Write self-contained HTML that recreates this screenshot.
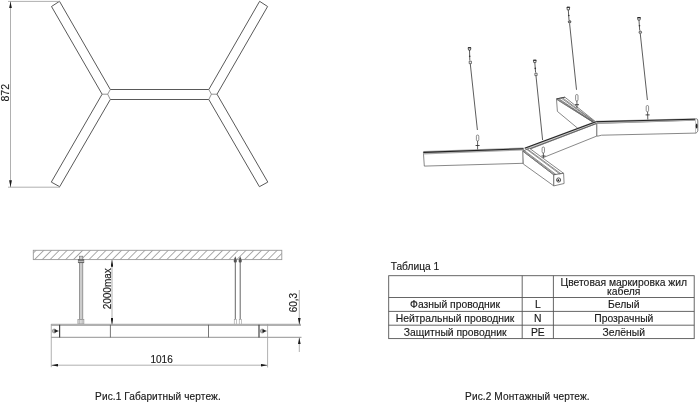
<!DOCTYPE html>
<html><head><meta charset="utf-8">
<style>
html,body{margin:0;padding:0;background:#fff;}
body{width:700px;height:403px;overflow:hidden;position:relative;font-family:"Liberation Sans",sans-serif;}
svg{position:absolute;left:0;top:0;will-change:transform;}
svg text{font-family:"Liberation Sans",sans-serif;fill:#1a1a1a;stroke:#1a1a1a;stroke-width:0.15px;}
</style></head><body>
<svg width="700" height="403" viewBox="0 0 700 403">
<defs>
<marker id="ar" viewBox="0 0 7 2.8" refX="7" refY="1.4" markerWidth="7" markerHeight="2.8" markerUnits="userSpaceOnUse" orient="auto-start-reverse"><path d="M0,0 L7,1.4 L0,2.8z" fill="#1a1a1a"/></marker>
</defs>
<!-- TOP-LEFT plan view -->
<g fill="none" stroke="#505050" stroke-width="0.95">
<!-- upper-left arm -->
<path d="M102.1,94.2 L51.5,6.5 L59.5,1.3 L110.3,89.5"/>
<!-- lower-left arm -->
<path d="M102.1,94.2 L51.3,182.1 L59.7,186.7 L110.3,99.5"/>
<!-- bar -->
<path d="M110.3,89.5 L208.8,89.5 M110.3,99.5 L208.8,99.5"/>
<!-- upper-right arm -->
<path d="M217,94.2 L267.6,6.5 L259.6,1.3 L208.8,89.5"/>
<!-- lower-right arm -->
<path d="M217,94.2 L267.8,182.1 L259.4,186.7 L208.8,99.5"/>
</g>
<g fill="none" stroke="#666" stroke-width="0.7">
<path d="M102.1,94.2 L107.7,94.2 L110.3,89.5 M107.7,94.2 L110.3,99.5"/>
<path d="M217,94.2 L211.4,94.2 L208.8,89.5 M211.4,94.2 L208.8,99.5"/>
</g>
<!-- 872 dim -->
<g stroke="#9c9c9c" stroke-width="0.8" fill="none">
<path d="M8,1.4 L60,1.4 M8,187.2 L60,187.2"/>
<path d="M10.5,1.4 L10.5,187.2" marker-start="url(#ar)" marker-end="url(#ar)"/>
</g>
<text transform="translate(8.7,92.7) rotate(-90)" font-size="10.5" text-anchor="middle">872</text>

<!-- BOTTOM-LEFT elevation -->
<defs>
<pattern id="hatch" patternUnits="userSpaceOnUse" width="5.5" height="5.5" patternTransform="translate(-2.1,0) rotate(45)">
<line x1="0" y1="0" x2="0" y2="5.5" stroke="#444" stroke-width="0.9"/>
</pattern>
<clipPath id="hc"><rect x="33.3" y="250.3" width="248.5" height="9.3"/></clipPath>
</defs>
<rect x="33.3" y="250.3" width="248.5" height="9.3" fill="url(#hatch)" stroke="#999" stroke-width="0.9"/>
<!-- left rod -->
<rect x="79.4" y="256.2" width="3.4" height="63.2" fill="#ccc" stroke="#777" stroke-width="0.7"/>
<rect x="78.2" y="259.5" width="5.7" height="3.3" fill="#666" stroke="#555" stroke-width="0.5"/><line x1="78.4" y1="261.3" x2="83.7" y2="261.3" stroke="#eee" stroke-width="0.8"/>
<rect x="77.9" y="319.4" width="6" height="4.6" fill="#ddd" stroke="#888" stroke-width="0.6"/><line x1="79.6" y1="319.4" x2="79.6" y2="324" stroke="#999" stroke-width="0.5"/><line x1="82.2" y1="319.4" x2="82.2" y2="324" stroke="#999" stroke-width="0.5"/>
<!-- right rods -->
<g stroke="#555" stroke-width="0.9">
<line x1="235.3" y1="258" x2="235.3" y2="319.4"/>
<line x1="240.2" y1="258" x2="240.2" y2="319.4"/>
</g>
<g fill="#555"><path d="M235.3,256.2 l1.3,3.4 h-2.6z M240.2,256.2 l1.3,3.4 h-2.6z"/>
<rect x="233.8" y="259.6" width="3" height="3" rx="1"/><rect x="238.7" y="259.6" width="3" height="3" rx="1"/></g>
<g fill="#fff" stroke="#888" stroke-width="0.5">
<rect x="234.2" y="319.4" width="2.5" height="5.2"/><rect x="239.2" y="319.4" width="2.5" height="5.2"/>
</g>
<!-- bar -->
<g fill="none">
<line x1="51.2" y1="324.85" x2="301" y2="324.85" stroke="#b0b0b0" stroke-width="2.2"/>
<line x1="51.2" y1="337.35" x2="301.5" y2="337.35" stroke="#a8a8a8" stroke-width="1.2"/>
<g stroke="#444" stroke-width="1.2"><line x1="59.6" y1="324.8" x2="59.6" y2="337.4"/><line x1="259" y1="324.8" x2="259" y2="337.4"/></g>
<g stroke="#555" stroke-width="0.8"><line x1="110.4" y1="324.8" x2="110.4" y2="337.4"/><line x1="208.5" y1="324.8" x2="208.5" y2="337.4"/></g>
<g stroke="#9c9c9c" stroke-width="0.8"><line x1="51.25" y1="324" x2="51.25" y2="367.2"/><line x1="267.6" y1="324" x2="267.6" y2="367.5"/></g>
</g>
<g><circle cx="54.3" cy="331" r="2" fill="#bbb" stroke="#777" stroke-width="0.6"/><path d="M54.5,329.3 L59,331 L54.5,332.7z" fill="#222"/>
<circle cx="262.3" cy="331" r="2" fill="#bbb" stroke="#777" stroke-width="0.6"/><path d="M262.5,329.3 L267,331 L262.5,332.7z" fill="#222"/></g>
<!-- dims -->
<g stroke="#9c9c9c" stroke-width="0.8" fill="none">
<line x1="51.3" y1="365.2" x2="267.5" y2="365.2" marker-start="url(#ar)" marker-end="url(#ar)"/>
<line x1="112" y1="259.8" x2="112" y2="324.8" marker-start="url(#ar)" marker-end="url(#ar)"/>
<line x1="299.3" y1="290" x2="299.3" y2="324.8" marker-end="url(#ar)"/>
<line x1="299.3" y1="352" x2="299.3" y2="337.4" marker-end="url(#ar)"/>
</g>
<text x="161.6" y="363" font-size="10" text-anchor="middle">1016</text>
<text transform="translate(110.5,288.8) rotate(-90)" font-size="10" text-anchor="middle">2000max</text>
<text transform="translate(297,302.6) rotate(-90)" font-size="10" text-anchor="middle">60,3</text>

<!-- TABLE -->
<g stroke="#555" stroke-width="0.9" fill="none">
<rect x="388.7" y="275.7" width="305.5" height="62.9"/>
<path d="M388.7,297.5 H694.2 M388.7,311.4 H694.2 M388.7,325.2 H694.2 M522.2,275.7 V338.6 M553.4,275.7 V338.6"/>
</g>
<g font-size="10.35" text-anchor="middle">
<text x="390.7" y="269.8" text-anchor="start" font-size="10.2">Таблица 1</text>
<text x="623.8" y="285.9">Цветовая маркировка жил</text>
<text x="623.8" y="294.5">кабеля</text>
<text x="455.1" y="308">Фазный проводник</text>
<text x="455.1" y="321.8">Нейтральный проводник</text>
<text x="455.1" y="335.6">Защитный проводник</text>
<text x="537.8" y="308">L</text>
<text x="537.8" y="321.8">N</text>
<text x="537.8" y="335.6">PE</text>
<text x="623.8" y="308">Белый</text>
<text x="623.8" y="321.8">Прозрачный</text>
<text x="623.8" y="335.6">Зелёный</text>
</g>
<!-- captions -->
<text x="95.1" y="399.7" font-size="10.1" letter-spacing="0.1">Рис.1 Габаритный чертеж.</text>
<text x="465.1" y="400" font-size="10.1" letter-spacing="0.1">Рис.2 Монтажный чертеж.</text>
<!-- 3D -->

<g id="iso" stroke-linejoin="round">
<!-- D back arm -->
<g stroke="#555" stroke-width="0.7" fill="#fff">
<path d="M556.5,99.3 L593.7,122.6 L578,128.5 L557.4,111.4 Z"/>
<path d="M556.5,98.9 L564.9,97.2 L595.7,121.8 L593.7,122.6 Z"/>
</g>
<path d="M557.5,98.7 L593.9,122.5 M558.6,98.5 L594.2,122.4 M561.1,98.0 L594.8,122.2 M562.4,97.7 L595.1,122.0" stroke="#555" stroke-width="0.65" fill="none"/>
<path d="M556.5,98.9 L564.9,97.2" stroke="#444" stroke-width="0.9"/>
<!-- E right arm -->
<path d="M596.7,123.5 L695.5,120.2 L695.5,133.1 L601.5,135.2 L598,136.1 L596.7,136.1 Z" fill="#fff" stroke="#555" stroke-width="0.7"/>
<path d="M595.9,120.8 L695.5,118.3 L695.5,120.6 L596.7,123.7 Z" fill="#aaa" stroke="none"/>
<path d="M595.9,121.7 L695.5,119.2" stroke="#222" stroke-width="1"/>
<path d="M695.5,119 C697,118.5 697.8,119 697.8,121 L697.8,130.5 C697.6,132 696.5,133 695.5,133.1" fill="#fff" stroke="#444" stroke-width="0.7"/>
<ellipse cx="696.6" cy="126" rx="0.9" ry="2.6" fill="#222"/>
<!-- C middle bar -->
<path d="M526,150.6 L596.7,123.5 L596.7,136.1 L526,164.5 Z" fill="#fff" stroke="#555" stroke-width="0.7"/>
<path d="M524.7,147.4 L595.9,120.8 L596.7,123.7 L526,150.8 Z" fill="#ccc" stroke="none"/>
<path d="M524.7,148.3 L595.9,121.7" stroke="#222" stroke-width="1.1"/>
<path d="M525.5,150.4 L596.5,123.4" stroke="#444" stroke-width="0.8"/>
<!-- A left arm -->
<path d="M423.4,152.4 L523.3,148.8 L523.1,163.3 L424.3,166.1 Z" fill="#fff" stroke="#555" stroke-width="0.7"/>
<path d="M423.4,151 L523.5,147.5 L523.5,150.4 L423.4,154.4 Z" fill="#aaa" stroke="none"/>
<path d="M423.4,152.4 L523.5,148.7" stroke="#222" stroke-width="1.1"/>
<!-- B front arm -->
<g stroke="#555" stroke-width="0.7" fill="#fff">
<path d="M522.8,151.1 L553.8,174.8 L553.8,185.9 L523.3,164 Z"/>
<path d="M522.8,151.1 L529.5,148.3 L563.6,173.3 L553.8,174.8 Z"/>
<path d="M553.8,174.8 L563.6,173.3 L564.1,183.5 L553.8,185.9 Z"/>
</g>
<path d="M554.8,174.7 L523.5,150.8 M556.0,174.5 L524.3,150.5 M559.7,173.9 L526.8,149.4 M560.9,173.7 L527.6,149.1" stroke="#555" stroke-width="0.65" fill="none"/>
<circle cx="558.6" cy="180" r="2.1" fill="#fff" stroke="#333" stroke-width="0.8"/>
<circle cx="558.4" cy="180.2" r="1" fill="#222"/>
<!-- rods -->
<g stroke="#333" stroke-width="0.8" fill="none">
<path d="M469.5,50 L469.8,60.5 M470.3,64 L477.4,130 M477.6,141 L477.6,149.5"/>
<path d="M534.8,62.5 L535.6,72.5 M536,76 L542.6,140 M543.3,153 L543.5,157.5"/>
<path d="M568.3,10 L569,20 M569.6,23.5 L576.5,89.8 M576.9,101 L577,108"/>
<path d="M639,20.5 L639.7,30.5 M640.3,34 L647.4,100 M647.6,111.7 L647.8,119.5"/>
</g>
<g fill="#fff" stroke="#444" stroke-width="0.6">
<rect x="476.4" y="135" width="2.4" height="6" rx="1.2"/>
<rect x="542.1" y="147" width="2.4" height="6" rx="1.2"/>
<rect x="575.6" y="94.5" width="2.4" height="6.5" rx="1.2"/>
<rect x="646.2" y="105.5" width="2.4" height="6.2" rx="1.2"/>
</g>
<g fill="#fff" stroke="#333" stroke-width="0.8">
<path d="M468.1,47.7 h2.8 l-0.4,2.4 h-2z"/>
<path d="M533.4,60.2 h2.8 l-0.4,2.4 h-2z"/>
<path d="M566.9,7.3 h2.8 l-0.4,2.6 h-2z"/>
<path d="M637.6,17.6 h2.8 l-0.4,2.6 h-2z"/>
</g>
<g fill="#333">
<circle cx="469.7" cy="56.3" r="0.8"/><circle cx="535.3" cy="68.4" r="0.8"/><circle cx="568.8" cy="15.5" r="0.8"/><circle cx="639.5" cy="25.8" r="0.8"/>
</g>
<g fill="#fff" stroke="#333" stroke-width="0.7">
<rect x="469.2" y="61.2" width="2.2" height="2.4"/>
<rect x="534.9" y="73.2" width="2.2" height="2.4"/>
<circle cx="569.6" cy="21.8" r="1.3" fill="#888"/>
<circle cx="640.3" cy="32.3" r="1.3" fill="#bbb"/>
</g>
<g stroke="#222" stroke-width="1.1"><path d="M468.1,47.7 h2.8 M533.4,60.2 h2.8 M566.9,7.3 h2.8 M637.6,17.6 h2.8"/></g>
<g stroke="#333" stroke-width="0.9">
<path d="M475.6,145.5 h4 M541.5,156 h4 M575,104.7 h4 M645.6,114.9 h4"/>
</g>
</g>
</svg>
</body></html>
